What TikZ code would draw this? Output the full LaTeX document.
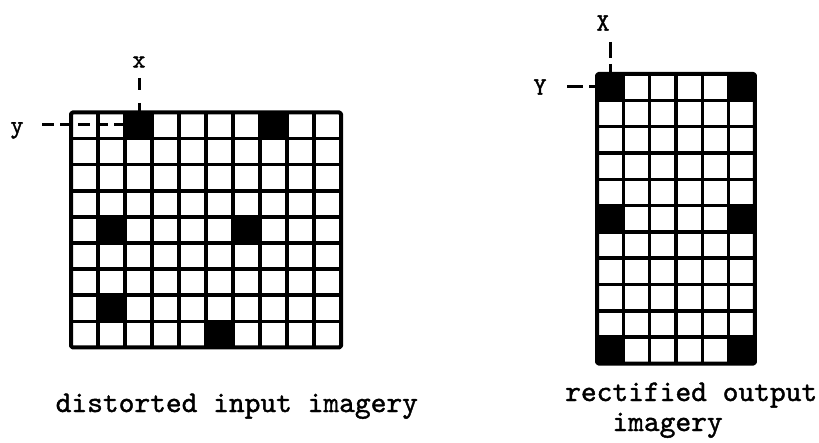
\documentclass[tikz,border=0pt]{standalone}
\usepackage{fontspec}
\newfontfamily\tyfont{lmmono10-regular}[Extension=.otf, FakeBold=1.3]
\begin{document}
\begin{tikzpicture}[x=1pt,y=-1pt,
  gridline/.style={line width=3.5pt, line cap=rect, line join=round},
  frame/.style={line width=4pt, line join=round, rounded corners=1.5pt},
  lead/.style={line width=3pt},
  lbl/.style={font=\tyfont\fontsize{25}{25}\selectfont, inner sep=0pt},
  captext/.style={font=\tyfont\fontsize{30}{30}\selectfont, inner sep=0pt, anchor=base west, align=left}]
\useasboundingbox (0,0) rectangle (819,443);
\fill[white] (0,0) rectangle (819,443);

% ---------- left grid: distorted input imagery (10 x 9) ----------
\def\lx{71}\def\ly{112.5}\def\lw{27}\def\lh{26.1}
\foreach \c/\r in {2/0,7/0,1/4,6/4,1/7,5/8}
  \fill[black] (\lx+\c*\lw,\ly+\r*\lh) rectangle ++(\lw,\lh);
\foreach \i in {1,...,9}
  \draw[gridline] (\lx+\i*\lw,\ly) -- (\lx+\i*\lw,\ly+9*\lh);
\foreach \j in {1,...,8}
  \draw[gridline] (\lx,\ly+\j*\lh) -- (\lx+10*\lw,\ly+\j*\lh);
\draw[frame] (\lx,\ly) rectangle (\lx+10*\lw,\ly+9*\lh);

\node[lbl] (xl) at (139,62) {x};
\coordinate (xs) at (139,78);
\coordinate (xt) at (139,\ly);
\draw[lead, dash pattern=on 12pt off 13pt] (xs) -- (xt);

\node[lbl, anchor=base] (yl) at (17,133) {y};
\coordinate (ys) at (42,125);
\coordinate (yt) at (\lx+2*\lw,125);
\draw[lead, dash pattern=on 12pt off 6pt] (ys) -- (yt);

\node[captext] (cin) at (55.5,412) {distorted input imagery};

% ---------- right grid: rectified output imagery (6 x 11) ----------
\def\rx{597}\def\ry{74}\def\rw{26.33}\def\rh{26.32}
\foreach \c/\r in {0/0,5/0,0/5,5/5,0/10,5/10}
  \fill[black] (\rx+\c*\rw,\ry+\r*\rh) rectangle ++(\rw,\rh);
\foreach \i in {1,...,5}
  \draw[gridline] (\rx+\i*\rw,\ry) -- (\rx+\i*\rw,\ry+11*\rh);
\foreach \j in {1,...,10}
  \draw[gridline] (\rx,\ry+\j*\rh) -- (\rx+6*\rw,\ry+\j*\rh);
\draw[frame] (\rx,\ry) rectangle (\rx+6*\rw,\ry+11*\rh);

\node[lbl] (XL) at (603,23) {X};
\coordinate (Xs) at (610,42);
\coordinate (Xt) at (610,\ry);
\draw[lead, dash pattern=on 16pt off 6pt] (Xs) -- (Xt);

\node[lbl] (YL) at (540,87) {Y};
\coordinate (Ys) at (567,87);
\coordinate (Yt) at (\rx,87);
\draw[lead, dash pattern=on 16pt off 6pt] (Ys) -- (Yt);

\node[captext] (cout) at (565,431) {rectified output\\\hspace{47.25pt}imagery};
\end{tikzpicture}
\end{document}
